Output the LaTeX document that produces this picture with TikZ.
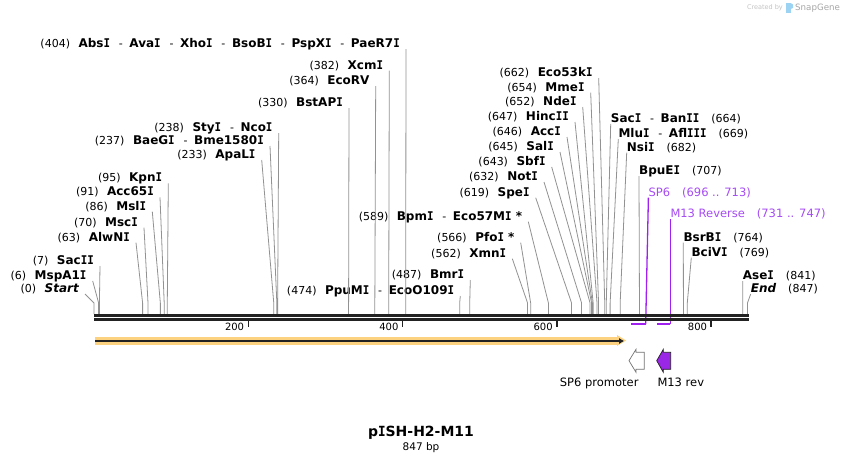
\documentclass[tikz,border=0pt]{standalone}
\usepackage{fontspec}
\setmainfont{DejaVu Sans}[BoldFont={DejaVu Sans Bold},ItalicFont={DejaVu Sans Oblique},BoldItalicFont={DejaVu Sans Bold Oblique}]
\newfontfamily\monoI{DejaVu Sans Mono}[BoldFont={DejaVu Sans Mono Bold},FakeStretch=0.9]
\usetikzlibrary{arrows.meta}
\definecolor{cutgray}{HTML}{929292}
\definecolor{primline}{HTML}{A020F0}
\definecolor{primtxt}{HTML}{A64BF4}
\definecolor{primfill}{HTML}{9B27E6}
\definecolor{orng}{HTML}{FCD17F}
\definecolor{bb}{HTML}{222222}
\definecolor{wmgray}{HTML}{C4C4C4}
\definecolor{wmblue}{HTML}{9CD3F2}
\ExplSyntaxOn
\cs_new_protected:Npn \rsk_serif_i:n #1
  {
    \tl_set:Nn \l_tmpa_tl {#1}
    \tl_replace_all:Nnn \l_tmpa_tl {I} { {\monoI I} }
    \tl_use:N \l_tmpa_tl
  }
\NewDocumentCommand{\enz}{m}{ {\fontsize{12}{14}\selectfont\bfseries \rsk_serif_i:n {#1}} }
\NewDocumentCommand{\serifI}{m}{ \rsk_serif_i:n {#1} }
\ExplSyntaxOff
\newcommand{\bpn}[1]{{\fontsize{11}{13}\selectfont #1}}
\newcommand{\dsh}{\hspace{8.8pt}{\fontsize{11}{13}\selectfont -}\hspace{6.6pt}}
\newcommand{\gpl}{\hspace{8.5pt}}
\newcommand{\gpr}{\hspace{12pt}}
\newcommand{\mksite}[2]{\coordinate (#1) at ({94+0.7715*#2},303);}
\tikzset{
  lbl/.style={inner ysep=0pt, text height=9pt, text depth=1.5pt},
  lft/.style={lbl, anchor=south east, inner xsep=6pt},
  rgt/.style={lbl, anchor=south west, inner xsep=0pt},
  cut/.style={draw=cutgray, line width=0.8pt},
  prm/.style={draw=primline, line width=1.3pt},
  ptxt/.style={lbl, anchor=south west, inner xsep=0pt, text=primtxt, font=\fontsize{11.5}{13}\selectfont},
  ticklbl/.style={anchor=base east, inner sep=0pt, font=\fontsize{10}{12}\selectfont},
  featlbl/.style={inner sep=0pt, font=\fontsize{11.5}{13}\selectfont}
}
\begin{document}
\begin{tikzpicture}[x=1pt,y=-1pt]
\useasboundingbox (0,0) rectangle (844,464);
\fill[white] (0,0) rectangle (844,464);

% watermark
\node[anchor=east, inner sep=0pt, text=wmgray, font=\fontsize{6.5}{8}\selectfont] (wm1) at (783,8) {Created by};
\fill[wmblue] (786,3) rectangle (790.5,13);
\fill[wmblue] (790.5,3) -- (793,4.5) -- (793,8) -- (790.5,9) -- cycle;
\node[anchor=west, inner sep=0pt, text=wmgray!85!black, font=\fontsize{8.7}{10}\selectfont] (wm2) at (795,8) {SnapGene};

% sites
\mksite{s404}{404}\mksite{s382}{382}\mksite{s364}{364}\mksite{s330}{330}
\mksite{s238}{238}\mksite{s237}{237}\mksite{s233}{233}\mksite{s95}{95}
\mksite{s91}{91}\mksite{s86}{86}\mksite{s70}{70}\mksite{s63}{63}
\mksite{s7}{7}\mksite{s6}{6}\mksite{s0}{0}\mksite{s474}{474}\mksite{s487}{487}
\mksite{s562}{562}\mksite{s566}{566}\mksite{s589}{589}\mksite{s619}{619}
\mksite{s632}{632}\mksite{s643}{643}\mksite{s645}{645}\mksite{s646}{646}
\mksite{s647}{647}\mksite{s652}{652}\mksite{s654}{654}\mksite{s662}{662}
\mksite{s664}{664}\mksite{s669}{669}\mksite{s682}{682}\mksite{s707}{707}
\mksite{s764}{764}\mksite{s769}{769}\mksite{s841}{841}\mksite{s847}{847}

% left labels
\node[lft] (absi) at (406,49) {\bpn{(404)}\gpl\enz{AbsI}\dsh\enz{AvaI}\dsh\enz{XhoI}\dsh\enz{BsoBI}\dsh\enz{PspXI}\dsh\enz{PaeR7I}};
\node[lft] (xcmi) at (389.3,70.7) {\bpn{(382)}\gpl\enz{XcmI}};
\node[lft] (ecorv) at (375.7,86) {\bpn{(364)}\gpl\enz{EcoRV}};
\node[lft] (bstapi) at (349,108) {\bpn{(330)}\gpl\enz{BstAPI}};
\node[lft] (styi) at (278.7,133) {\bpn{(238)}\gpl\enz{StyI}\dsh\enz{NcoI}};
\node[lft] (baegi) at (270,146) {\bpn{(237)}\gpl\enz{BaeGI}\dsh\enz{Bme1580I}};
\node[lft] (apali) at (261.7,160) {\bpn{(233)}\gpl\enz{ApaLI}};
\node[lft] (kpni) at (168.3,183.3) {\bpn{(95)}\gpl\enz{KpnI}};
\node[lft] (acc65i) at (160,197.3) {\bpn{(91)}\gpl\enz{Acc65I}};
\node[lft] (msli) at (152.3,211.7) {\bpn{(86)}\gpl\enz{MslI}};
\node[lft] (msci) at (144,227.7) {\bpn{(70)}\gpl\enz{MscI}};
\node[lft] (alwni) at (136,242.7) {\bpn{(63)}\gpl\enz{AlwNI}};
\node[lft] (sacii) at (100,266) {\bpn{(7)}\gpl\enz{SacII}};
\node[lft] (mspa1i) at (92.7,281) {\bpn{(6)}\gpl\enz{MspA1I}};
\node[lft] (start) at (85,294) {\bpn{(0)}\gpl\enz{\itshape Start}};
\node[lft] (ppumi) at (460.3,296) {\bpn{(474)}\gpl\enz{PpuMI}\dsh\enz{EcoO109I}};
\node[lft] (bmri) at (470.3,280) {\bpn{(487)}\gpl\enz{BmrI}};
\node[lft] (xmni) at (512.3,258.7) {\bpn{(562)}\gpl\enz{XmnI}};
\node[lft] (pfoi) at (520.7,242.7) {\bpn{(566)}\gpl\enz{PfoI *}};
\node[lft] (bpmi) at (528.3,221.7) {\bpn{(589)}\gpl\enz{BpmI}\dsh\enz{Eco57MI *}};
\node[lft] (spei) at (535.7,197.7) {\bpn{(619)}\gpl\enz{SpeI}};
\node[lft] (noti) at (544,182) {\bpn{(632)}\gpl\enz{NotI}};
\node[lft] (sbfi) at (551.7,167) {\bpn{(643)}\gpl\enz{SbfI}};
\node[lft] (sali) at (560,152) {\bpn{(645)}\gpl\enz{SalI}};
\node[lft] (acci) at (567,137) {\bpn{(646)}\gpl\enz{AccI}};
\node[lft] (hincii) at (575,122) {\bpn{(647)}\gpl\enz{HincII}};
\node[lft] (ndei) at (582.7,107) {\bpn{(652)}\gpl\enz{NdeI}};
\node[lft] (mmei) at (590.7,92.7) {\bpn{(654)}\gpl\enz{MmeI}};
\node[lft] (eco53ki) at (598.7,78) {\bpn{(662)}\gpl\enz{Eco53kI}};

% right labels
\node[rgt] (saci) at (610.7,124) {\enz{SacI}\dsh\enz{BanII}\gpr\bpn{(664)}};
\node[rgt] (mlui) at (618.3,139) {\enz{MluI}\dsh\enz{AflIII}\gpr\bpn{(669)}};
\node[rgt] (nsii) at (626.7,152.7) {\enz{NsiI}\gpr\bpn{(682)}};
\node[rgt] (bpuei) at (639,176) {\enz{BpuEI}\gpr\bpn{(707)}};
\node[rgt] (bsrbi) at (683.3,242.7) {\enz{BsrBI}\gpr\bpn{(764)}};
\node[rgt] (bcivi) at (691.3,257.7) {\enz{BciVI}\gpr\bpn{(769)}};
\node[rgt] (asei) at (742.7,281) {\enz{AseI}\gpr\bpn{(841)}};
\node[rgt] (endl) at (750.7,294) {\enz{\itshape End}\gpr\bpn{(847)}};

% cut connectors
\foreach \l/\s in {absi/s404,xcmi/s382,ecorv/s364,bstapi/s330,styi/s238,baegi/s237,apali/s233,kpni/s95,acc65i/s91,msli/s86,msci/s70,alwni/s63,sacii/s7,mspa1i/s6,start/s0,ppumi/s474,bmri/s487,xmni/s562,pfoi/s566,bpmi/s589,spei/s619,noti/s632,sbfi/s643,sali/s645,acci/s646,hincii/s647,ndei/s652,mmei/s654,eco53ki/s662}
  \draw[cut] (\l.south east) -- (\s) -- ++(0,11);
\foreach \l/\s in {saci/s664,mlui/s669,nsii/s682,bpuei/s707,bsrbi/s764,bcivi/s769,asei/s841,endl/s847}
  \draw[cut] (\l.south west) -- (\s) -- ++(0,11);

% primers
\node[ptxt] (sp6) at (648.4,197.7) {SP6\gpr(696 .. 713)};
\node[ptxt] (m13) at (670.3,219) {M13 Reverse\gpr(731 .. 747)};
\coordinate (sp6e) at (645.7,324);
\coordinate (sp6b) at (631,324);
\coordinate (m13e) at (670.3,324);
\coordinate (m13b) at (657,324);
\draw[prm] (sp6.south west) -- (sp6e);
\draw[prm, line width=2pt] (sp6e) -- (sp6b);
\draw[prm] (m13.south west) -- (m13e);
\draw[prm, line width=2pt] (m13e) -- (m13b);

% backbone
\coordinate (bbs) at (94,315.3);
\coordinate (bbe) at (748.5,315.3);
\draw[bb, line width=2.7pt] (bbs) -- (bbe);
\draw[bb, line width=2.7pt] ([yshift=-4pt]bbs) -- ([yshift=-4pt]bbe);

% ticks
\foreach \v in {200,400,600,800}{
  \draw[bb, line width=1.6pt] ({94+0.7715*\v},320.5) -- ({94+0.7715*\v},327);
  \node[ticklbl] (t\v) at ({94+0.7715*\v-4},330.3) {\v};
}

% feature arrow
\coordinate (fs) at (95,340.5);
\coordinate (fe) at (618,340.5);
\fill[orng] (95,336.5) rectangle (618,344.5);
\fill[orng] (617,335) -- (626,340.5) -- (617,346) -- cycle;
\draw[bb, line width=1.9pt] (95,341) -- (620,341);
\fill[bb] (619,338.2) -- (623.8,341) -- (619,343.8) -- cycle;

% SP6 promoter & M13 rev features
\draw[draw=gray!90!black, fill=white, line width=0.7pt] (629,360.7) -- (636,349.3) -- (636,352.3) -- (644.3,352.3) -- (644.3,369.3) -- (636,369.3) -- (636,372.3) -- cycle;
\draw[draw=bb, fill=primfill, line width=0.7pt] (656.7,360.7) -- (663.3,349.3) -- (663.3,352.3) -- (670.7,352.3) -- (670.7,369.3) -- (663.3,369.3) -- (663.3,372.3) -- cycle;
\node[featlbl, anchor=base east] (sp6p) at (638.7,386.7) {SP6 promoter};
\node[featlbl, anchor=base west] (m13r) at (657.3,386.7) {M13 rev};

% title
\node[inner sep=0pt, font=\fontsize{14}{16}\selectfont\bfseries] (title) at (421,433) {\serifI{pISH-H2-M11}};
\node[inner sep=0pt, font=\fontsize{10.5}{12}\selectfont] (size) at (421,447.5) {847 bp};
\end{tikzpicture}
\end{document}
